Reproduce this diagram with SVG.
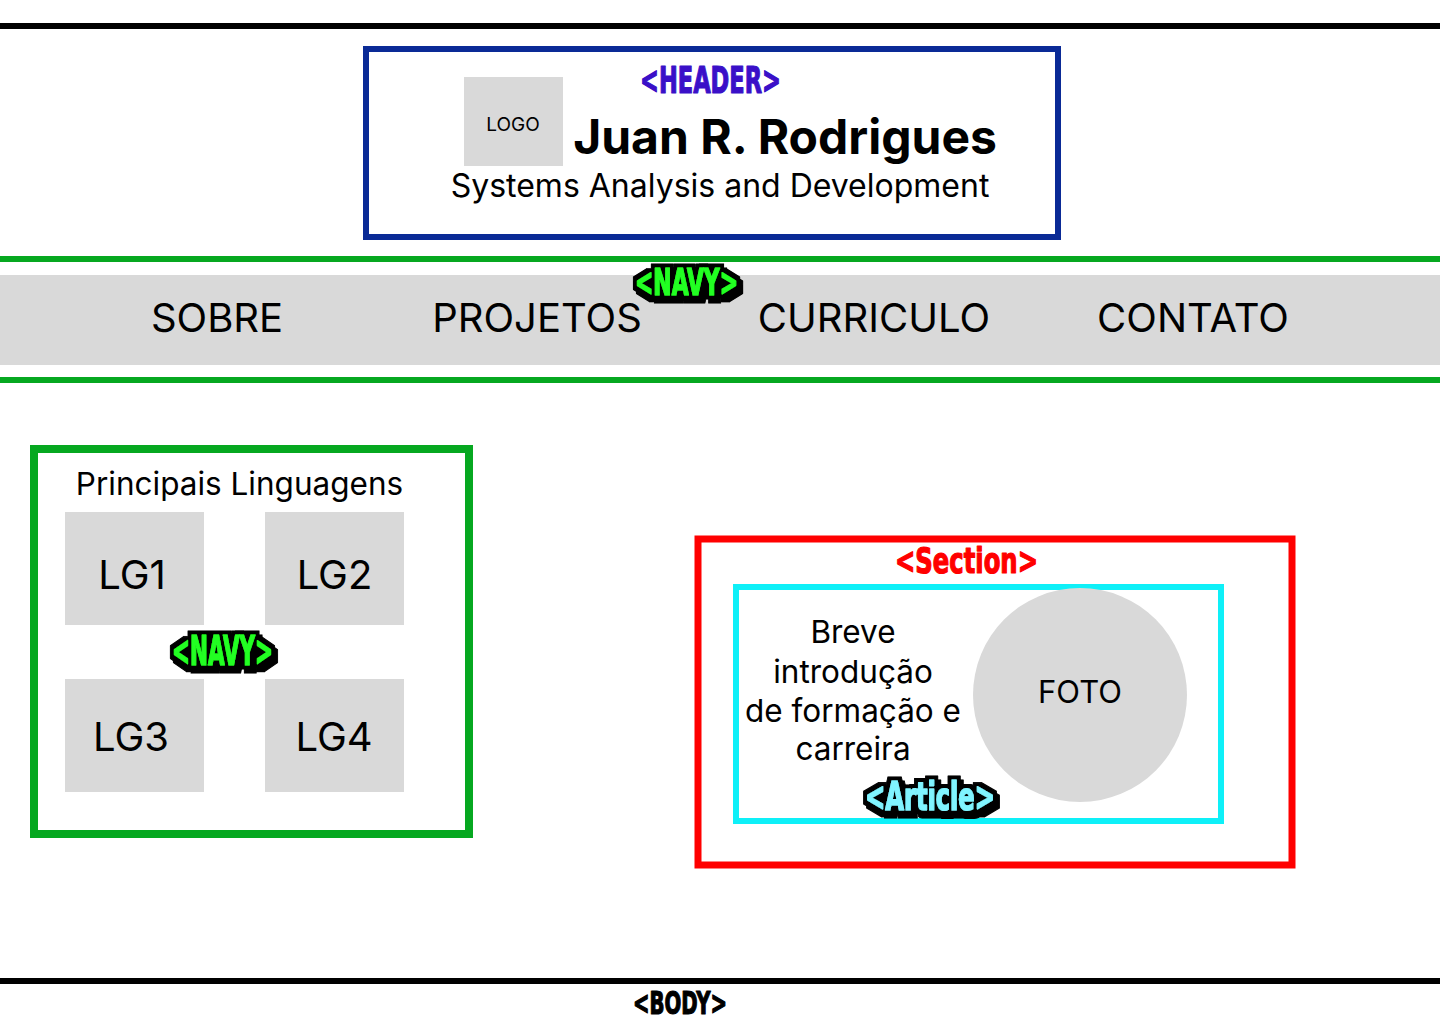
<svg xmlns="http://www.w3.org/2000/svg" width="1440" height="1024" viewBox="0 0 1440 1024">
  <style>
    .txt { font-family: Inter, "Noto Sans", "Liberation Sans", sans-serif; fill: #000; }
    .ph { fill: #d9d9d9; }
    .tag { font-family: "Liberation Sans Narrow", "DejaVu Sans Condensed", "Liberation Sans", sans-serif; font-weight: 700; stroke-width: 1.2; stroke-linejoin: round; }
    .badge { filter: url(#outline); }
  </style>
  <defs>
    <filter id="outline" x="-20%" y="-40%" width="140%" height="190%">
      <feMorphology in="SourceAlpha" operator="dilate" radius="3.5" result="d"/>
      <feOffset in="d" dx="3" dy="4" result="o"/>
      <feMerge>
        <feMergeNode in="o"/>
        <feMergeNode in="d"/>
        <feMergeNode in="SourceGraphic"/>
      </feMerge>
    </filter>
  </defs>
  <rect x="0" y="0" width="1440" height="1024" fill="#fff"/>

  <g id="body">
    <rect x="0" y="23" width="1440" height="6" fill="#000"/>
    <rect x="0" y="978" width="1440" height="6" fill="#000"/>
    <text class="tag" x="680" y="1014" font-size="32" text-anchor="middle" textLength="94" lengthAdjust="spacingAndGlyphs" fill="#000" stroke="#000">&lt;BODY&gt;</text>
  </g>

  <g id="header">
    <rect x="366" y="49" width="692" height="188" fill="#fff" stroke="#0a2a96" stroke-width="6"/>
    <rect class="ph" x="464" y="77" width="99" height="89"/>
    <text class="txt" x="513" y="131" font-size="19" text-anchor="middle">LOGO</text>
    <text class="tag" x="710.5" y="93" font-size="38" text-anchor="middle" textLength="141" lengthAdjust="spacingAndGlyphs" fill="#3a10c8" stroke="#3a10c8">&lt;HEADER&gt;</text>
    <text class="txt" x="785" y="154" font-size="48" font-weight="700" text-anchor="middle">Juan R. Rodrigues</text>
    <text class="txt" x="720" y="197" font-size="32" text-anchor="middle">Systems Analysis and Development</text>
  </g>

  <g id="nav">
    <rect x="0" y="256" width="1440" height="6" fill="#06a820"/>
    <rect x="0" y="275" width="1440" height="90" fill="#d9d9d9"/>
    <rect x="0" y="377" width="1440" height="6" fill="#06a820"/>
    <text class="txt" x="217" y="332" font-size="40" text-anchor="middle">SOBRE</text>
    <text class="txt" x="537" y="332" font-size="40" text-anchor="middle">PROJETOS</text>
    <text class="txt" x="874" y="332" font-size="40" text-anchor="middle">CURRICULO</text>
    <text class="txt" x="1193" y="332" font-size="40" text-anchor="middle">CONTATO</text>
    <text id="nav-tag" class="tag badge" x="686.5" y="295" font-size="38" text-anchor="middle" textLength="103" lengthAdjust="spacingAndGlyphs" fill="#22ff22" stroke="#22ff22">&lt;NAVY&gt;</text>
  </g>

  <g id="languages">
    <rect x="34" y="449" width="435" height="385" fill="#fff" stroke="#06a820" stroke-width="8"/>
    <text class="txt" x="239.5" y="495" font-size="31.5" text-anchor="middle">Principais Linguagens</text>
    <g id="lg1">
      <rect class="ph" x="65" y="512" width="139" height="113"/>
      <text class="txt" x="132" y="589" font-size="40" text-anchor="middle">LG1</text>
    </g>
    <g id="lg2">
      <rect class="ph" x="265" y="512" width="139" height="113"/>
      <text class="txt" x="334.5" y="589" font-size="40" text-anchor="middle">LG2</text>
    </g>
    <g id="lg3">
      <rect class="ph" x="65" y="679" width="139" height="113"/>
      <text class="txt" x="131" y="751" font-size="40" text-anchor="middle">LG3</text>
    </g>
    <g id="lg4">
      <rect class="ph" x="265" y="679" width="139" height="113"/>
      <text class="txt" x="334" y="751" font-size="40" text-anchor="middle">LG4</text>
    </g>
    <text id="lang-tag" class="tag badge" x="222.5" y="665" font-size="40" text-anchor="middle" textLength="101" lengthAdjust="spacingAndGlyphs" fill="#22ff22" stroke="#22ff22">&lt;NAVY&gt;</text>
  </g>

  <g id="section">
    <rect x="698" y="539" width="594" height="326" fill="#fff" stroke="#ff0000" stroke-width="7"/>
    <text class="tag" x="966.5" y="573" font-size="36" text-anchor="middle" textLength="143" lengthAdjust="spacingAndGlyphs" fill="#ff0000" stroke="#ff0000">&lt;Section&gt;</text>
    <g id="article">
      <rect x="736" y="587" width="485" height="234" fill="#fff" stroke="#0ef0f8" stroke-width="6"/>
      <text class="txt" x="853" y="643" font-size="31.5" text-anchor="middle">Breve</text>
      <text class="txt" x="853" y="683" font-size="31.5" text-anchor="middle">introdução</text>
      <text class="txt" x="853" y="722" font-size="31.5" text-anchor="middle">de formação e</text>
      <text class="txt" x="853" y="760" font-size="31.5" text-anchor="middle">carreira</text>
      <circle class="ph" cx="1080" cy="695" r="107"/>
      <text class="txt" x="1080" y="703" font-size="31" text-anchor="middle">FOTO</text>
      <text id="article-tag" class="tag badge" x="930" y="810" font-size="39" text-anchor="middle" textLength="130" lengthAdjust="spacingAndGlyphs" fill="#80f4ff" stroke="#80f4ff">&lt;Article&gt;</text>
    </g>
  </g>

  <g id="connectors"></g>
</svg>
